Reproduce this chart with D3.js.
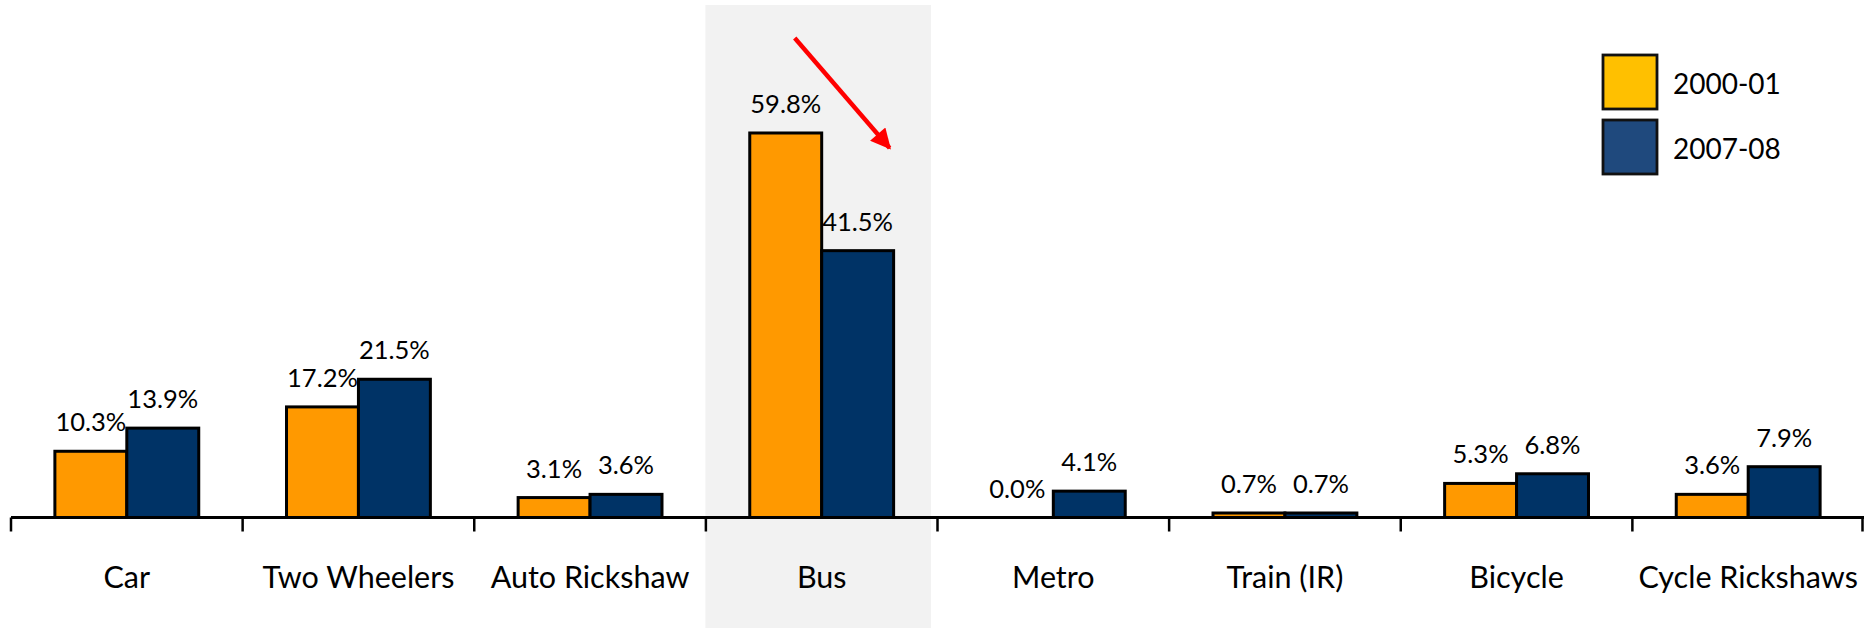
<!DOCTYPE html>
<html>
<head>
<meta charset="utf-8">
<script src="https://cdn.jsdelivr.net/npm/d3@7"></script>
<style>
  html, body { margin: 0; padding: 0; background: #ffffff; }
  svg { display: block; font-family: Lato, "Open Sans", sans-serif; }
</style>
</head>
<body>
<svg id="chart" width="1864" height="628"></svg>
<script>
// Modal share of trips by mode
const categories = ["Car", "Two Wheelers", "Auto Rickshaw", "Bus", "Metro", "Train (IR)", "Bicycle", "Cycle Rickshaws"];
const seriesNames = ["2000-01", "2007-08"];
const share2000 = [10.3, 17.2, 3.1, 59.8, 0.0, 0.7, 5.3, 3.6];
const share2007 = [13.9, 21.5, 3.6, 41.5, 4.1, 0.7, 6.8, 7.9];
const highlighted = "Bus";

const barColors = ["#FF9900", "#003366"];
const legendColors = ["#FFC000", "#1F497D"];

const svg = d3.select("#chart");

const baseY = 517.5;
const x0 = d3.scaleBand().domain(categories).range([11, 1864]).paddingInner(0).paddingOuter(0);
const x1 = d3.scaleBand().domain(seriesNames).range([0, x0.bandwidth()]).paddingInner(0).paddingOuter(0.61);
const y = d3.scaleLinear().domain([0, 60]).range([baseY, 131.7]);

const rows = categories.map((c, i) => ({ category: c, values: [share2000[i], share2007[i]] }));

// shaded band behind the highlighted category
svg.append("rect")
  .attr("x", x0(highlighted) - 0.5)
  .attr("y", 5)
  .attr("width", x0.bandwidth() - 6)
  .attr("height", 628 - 5)
  .attr("fill", "#F2F2F2");

// bars
const groups = svg.append("g").selectAll("g")
  .data(rows)
  .join("g")
  .attr("transform", d => `translate(${x0(d.category)},0)`);

groups.selectAll("rect")
  .data(d => d.values.map((v, k) => ({ series: seriesNames[k], value: v, k })))
  .join("rect")
  .attr("x", d => x1(d.series))
  .attr("y", d => y(d.value))
  .attr("width", x1.bandwidth())
  .attr("height", d => baseY - y(d.value))
  .attr("fill", d => barColors[d.k])
  .attr("stroke", "#000")
  .attr("stroke-width", 3);

// value labels
groups.selectAll("text.value")
  .data(d => d.values.map((v, k) => ({ series: seriesNames[k], value: v })))
  .join("text")
  .attr("class", "value")
  .attr("x", d => x1(d.series) + x1.bandwidth() / 2)
  .attr("y", d => y(d.value) - 20)
  .attr("text-anchor", "middle")
  .attr("font-size", 25.5)
  .attr("fill", "#000")
  .text(d => d.value.toFixed(1) + "%");

// category axis: baseline, ticks between categories, labels centred
const axis = svg.append("g");
axis.append("line")
  .attr("x1", x0.range()[0]).attr("x2", x0.range()[1])
  .attr("y1", baseY).attr("y2", baseY)
  .attr("stroke", "#000").attr("stroke-width", 3);

const boundaries = categories.map(c => x0(c)).concat([x0.range()[1] - 1.5]);
axis.selectAll("line.tick")
  .data(boundaries)
  .join("line")
  .attr("class", "tick")
  .attr("x1", d => d).attr("x2", d => d)
  .attr("y1", baseY).attr("y2", baseY + 14)
  .attr("stroke", "#000").attr("stroke-width", 2.5);

axis.selectAll("text.cat")
  .data(categories)
  .join("text")
  .attr("class", "cat")
  .attr("x", d => x0(d) + x0.bandwidth() / 2)
  .attr("y", 588)
  .attr("text-anchor", "middle")
  .attr("font-size", 30.5)
  .attr("fill", "#000")
  .text(d => d);

// red arrow pointing down from the 2000-01 bus bar towards the 2007-08 bar
const defs = svg.append("defs");
defs.append("marker")
  .attr("id", "arrowHead")
  .attr("viewBox", "0 0 10 10")
  .attr("refX", 9).attr("refY", 5)
  .attr("markerWidth", 5).attr("markerHeight", 4.6)
  .attr("markerUnits", "strokeWidth")
  .attr("orient", "auto")
  .append("path")
  .attr("d", "M0,0 L10,5 L0,10 Z")
  .attr("fill", "#FF0000");

const busX = x0(highlighted);
svg.append("line")
  .attr("x1", busX + x1(seriesNames[0]) + x1.bandwidth() / 2 + 9)
  .attr("y1", 38)
  .attr("x2", busX + x1(seriesNames[1]) + x1.bandwidth() - 4)
  .attr("y2", y(share2000[categories.indexOf(highlighted)]) + 15)
  .attr("stroke", "#FF0000")
  .attr("stroke-width", 4.4)
  .attr("marker-end", "url(#arrowHead)");

// legend
const legend = svg.append("g").selectAll("g")
  .data(seriesNames)
  .join("g")
  .attr("transform", (d, i) => `translate(1603, ${55 + i * 65})`);

legend.append("rect")
  .attr("width", 54).attr("height", 54)
  .attr("fill", (d, i) => legendColors[i])
  .attr("stroke", "#111").attr("stroke-width", 2.8);

legend.append("text")
  .attr("x", 70)
  .attr("y", 39)
  .attr("font-size", 28)
  .attr("fill", "#000")
  .text(d => d);
</script>
</body>
</html>
